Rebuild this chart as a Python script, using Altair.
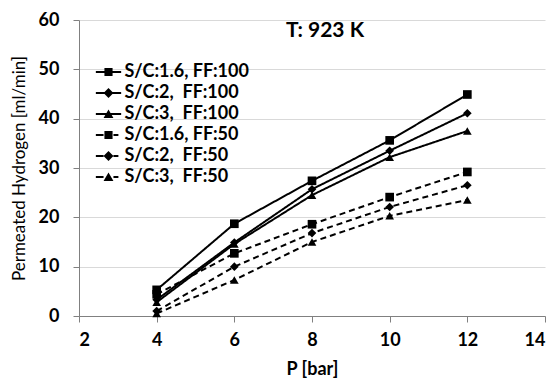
import altair as alt
import pandas as pd

P = [4, 6, 8, 10, 12]
sc16_ff100 = [5.3, 18.7, 27.4, 35.6, 44.9]
sc2_ff100 = [3.3, 14.9, 25.7, 33.5, 41.1]
sc3_ff100 = [2.8, 14.6, 24.5, 32.2, 37.5]
sc16_ff50 = [4.4, 12.7, 18.6, 24.1, 29.2]
sc2_ff50 = [1.0, 10.0, 16.8, 22.1, 26.5]
sc3_ff50 = [0.5, 7.3, 15.0, 20.3, 23.5]

labels = ["S/C:1.6, FF:100", "S/C:2,\u00a0 FF:100", "S/C:3,\u00a0 FF:100",
          "S/C:1.6, FF:50", "S/C:2,\u00a0 FF:50", "S/C:3,\u00a0 FF:50"]
sc_vals = ["1.6", "2", "3", "1.6", "2", "3"]
ff_vals = ["100", "100", "100", "50", "50", "50"]
series = [sc16_ff100, sc2_ff100, sc3_ff100, sc16_ff50, sc2_ff50, sc3_ff50]

rows = []
for lab, sc, ff, vals in zip(labels, sc_vals, ff_vals, series):
    for p, v in zip(P, vals):
        rows.append({"P": p, "H2": v, "series": lab, "SC": sc, "FF": ff})
df = pd.DataFrame(rows)

FONT = "Lato"

x = alt.X("P:Q", scale=alt.Scale(domain=[2, 14], nice=False, zero=False),
          axis=alt.Axis(values=[2, 4, 6, 8, 10, 12, 14], title="P [bar]", grid=False,
                        tickSize=6, domainColor="#808080", tickColor="#808080",
                        labelFont=FONT, labelFontSize=18, labelFontWeight="bold", labelColor="black",
                        labelPadding=9, titleFont=FONT, titleFontSize=18, titleFontWeight="bold",
                        titleColor="black", titlePadding=11))
y = alt.Y("H2:Q", scale=alt.Scale(domain=[0, 60], nice=False),
          axis=alt.Axis(values=[0, 10, 20, 30, 40, 50, 60], title="Permeated Hydrogen [ml/min]",
                        grid=True, gridColor="#d9d9d9", gridWidth=1,
                        tickSize=6, domainColor="#808080", tickColor="#808080",
                        labelFont=FONT, labelFontSize=18, labelFontWeight="bold", labelColor="black",
                        labelPadding=14, titleFont=FONT, titleFontSize=17, titleFontWeight="normal",
                        titleColor="black", titlePadding=10))

lines = alt.Chart(df).mark_line(color="black", strokeWidth=2).encode(
    x=x, y=y, detail="series:N",
    strokeDash=alt.StrokeDash("FF:N", scale=alt.Scale(domain=["100", "50"], range=[[1, 0], [6, 4]]),
                              legend=None),
)

points = alt.Chart(df).mark_point(filled=True, color="black", opacity=1, size=75).encode(
    x=x, y=y,
    shape=alt.Shape("SC:N", scale=alt.Scale(domain=["1.6", "2", "3"],
                                            range=["square", "diamond", "triangle-up"]), legend=None),
)

# legend glyphs: filled thin bars for the line pieces plus a filled marker
sq = "M-0.37,-0.37H0.37V0.37H-0.37Z"
di = "M0,-0.45L0.45,0L0,0.45L-0.45,0Z"
tr = "M0,-0.42L0.45,0.36H-0.45Z"
solid = "M-1.15,-0.09H1.15V0.09H-1.15Z"
dashed = "M-1.15,-0.09H-0.45V0.09H-1.15ZM0.45,-0.09H0.9V0.09H0.45Z"
paths = [solid + sq, solid + di, solid + tr, dashed + sq, dashed + di, dashed + tr]

legend_layer = alt.Chart(df).transform_filter("false").mark_point(
    filled=True, color="black", opacity=1
).encode(
    x=x, y=y,
    shape=alt.Shape("series:N", scale=alt.Scale(domain=labels, range=paths),
                    legend=alt.Legend(orient="none", legendX=18.5, legendY=41, title=None,
                                      labelFont=FONT, labelFontSize=18, labelFontWeight="bold",
                                      labelColor="black", symbolSize=484,
                                      symbolFillColor="black", symbolStrokeWidth=0,
                                      symbolOpacity=1, rowPadding=1, padding=0, labelOffset=5)),
)

chart = alt.layer(lines, points, legend_layer).resolve_scale(shape="independent").properties(
    width=466, height=296,
    title=alt.Title("T: 923 K", font=FONT, fontSize=21, fontWeight="bold", color="black",
                    anchor="middle", dx=13, offset=-30),
    autosize=alt.AutoSizeParams(type="none"),
    padding={"left": 71, "top": 12, "right": 3, "bottom": 62},
).configure_view(stroke=None)

chart.save("out.html", embed_options={"renderer": "svg", "actions": False})
